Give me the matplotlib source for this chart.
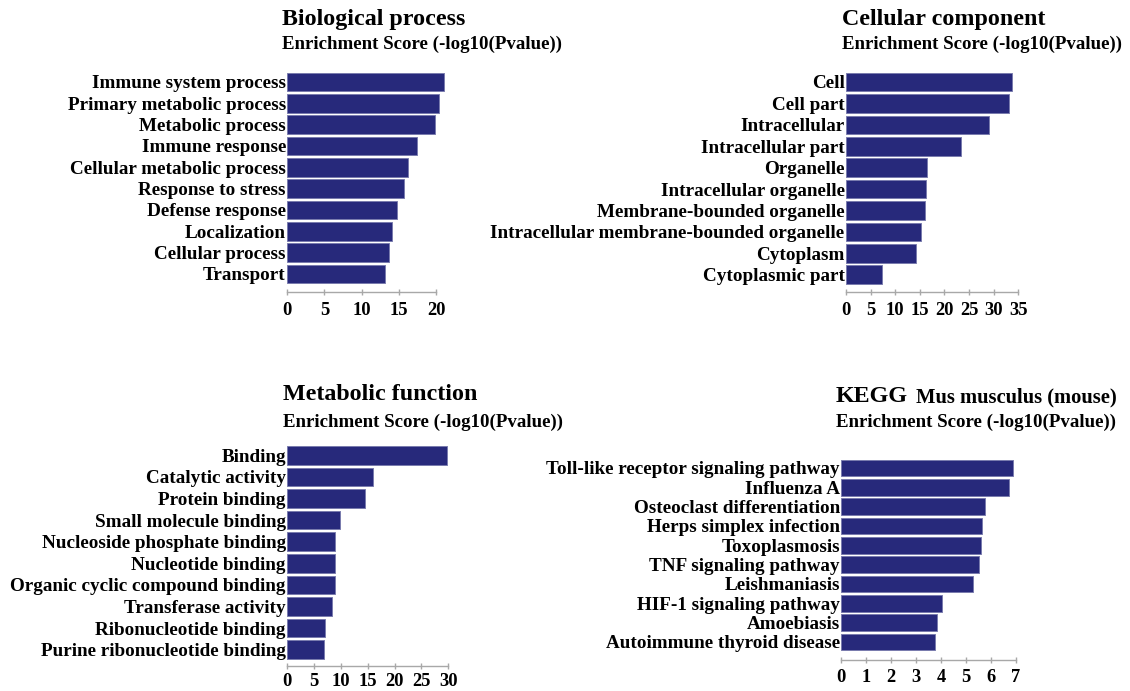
import matplotlib.pyplot as plt

plt.rcParams['font.family'] = ['Liberation Serif', 'DejaVu Serif']
plt.rcParams['font.weight'] = 'bold'

W, H = 1130, 691

# --- data -------------------------------------------------------------
bp_terms = ["Immune system process", "Primary metabolic process", "Metabolic process",
            "Immune response", "Cellular metabolic process", "Response to stress",
            "Defense response", "Localization", "Cellular process", "Transport"]
bp_scores = [21.1, 20.4, 19.8, 17.5, 16.3, 15.7, 14.7, 14.1, 13.7, 13.1]

cc_terms = ["Cell", "Cell part", "Intracellular", "Intracellular part", "Organelle",
            "Intracellular organelle", "Membrane-bounded organelle",
            "Intracellular membrane-bounded organelle", "Cytoplasm", "Cytoplasmic part"]
cc_scores = [33.7, 33.2, 29.1, 23.3, 16.4, 16.3, 16.1, 15.2, 14.2, 7.4]

mf_terms = ["Binding", "Catalytic activity", "Protein binding", "Small molecule binding",
            "Nucleoside phosphate binding", "Nucleotide binding",
            "Organic cyclic compound binding", "Transferase activity",
            "Ribonucleotide binding", "Purine ribonucleotide binding"]
mf_scores = [29.7, 15.9, 14.5, 9.9, 8.9, 8.9, 8.9, 8.4, 7.1, 6.9]

kegg_terms = ["Toll-like receptor signaling pathway", "Influenza A",
              "Osteoclast differentiation", "Herps simplex infection", "Toxoplasmosis",
              "TNF signaling pathway", "Leishmaniasis", "HIF-1 signaling pathway",
              "Amoebiasis", "Autoimmune thyroid disease"]
kegg_scores = [6.9, 6.75, 5.77, 5.66, 5.61, 5.54, 5.30, 4.04, 3.86, 3.78]

bp_ticks = [0, 5, 10, 15, 20]
cc_ticks = [0, 5, 10, 15, 20, 25, 30, 35]
mf_ticks = [0, 5, 10, 15, 20, 25, 30]
kegg_ticks = [0, 1, 2, 3, 4, 5, 6, 7]

BAR = "#27297b"
EDGE = "#7a7cae"
AXIS = "#a8a8a8"

fig = plt.figure(figsize=(W / 100, H / 100), dpi=100)


def panel(terms, scores, ticks, x0, x1, c_first, c_last, spine_y, bar_frac=0.87, pad=5):
    # pixel geometry -> axes box; x1 is where the last tick sits
    n = len(terms)
    slot = (c_last - c_first) / (n - 1)
    top = c_first - slot / 2
    ax = fig.add_axes([x0 / W, 1 - spine_y / H, (x1 - x0) / W, (spine_y - top) / H])
    ypos = list(range(n))
    ax.barh(ypos, scores, height=bar_frac, color=BAR, edgecolor=EDGE,
            linewidth=0.7, clip_on=False)
    ax.set_xlim(ticks[0], ticks[-1])
    ax.set_ylim((spine_y - c_first) / slot, -0.5)
    ax.set_yticks(ypos)
    ax.set_yticklabels(terms, fontsize=13.8, fontweight='bold')
    ax.tick_params(axis='y', length=0, pad=1)
    ax.set_xticks(ticks)
    ax.set_xticklabels([str(t) for t in ticks], fontsize=13.3, fontweight='bold')
    ax.tick_params(axis='x', direction='inout', length=5, width=1, color=AXIS, pad=pad)
    for s in ['top', 'right', 'left']:
        ax.spines[s].set_visible(False)
    ax.spines['bottom'].set_color(AXIS)
    ax.spines['bottom'].set_linewidth(1)
    ax.set_facecolor('none')
    return ax


def heading(x, y_title, y_sub, title, extra=None, extra_x=None):
    fig.text(x / W, 1 - y_title / H, title, fontsize=17.3, fontweight='bold', va='baseline')
    if extra:
        fig.text(extra_x / W, 1 - y_title / H, extra, fontsize=14.8, fontweight='bold',
                 va='baseline')
    fig.text(x / W, 1 - y_sub / H, "Enrichment Score (-log10(Pvalue))", fontsize=13.6,
             fontweight='bold', va='baseline')


panel(bp_terms, bp_scores, bp_ticks, 287.3, 436.0, 82.0, 274.0, 291.5)
panel(cc_terms, cc_scores, cc_ticks, 846.0, 1018.3, 82.0, 274.7, 291.5)
panel(mf_terms, mf_scores, mf_ticks, 287.3, 448.3, 455.3, 649.7, 665.5, pad=3)
panel(kegg_terms, kegg_scores, kegg_ticks, 841.3, 1015.7, 468.0, 642.0, 660.0,
      bar_frac=0.86, pad=4)

heading(282, 25, 49, "Biological process")
heading(842, 25, 49, "Cellular component")
heading(283, 400, 427, "Metabolic function")
heading(836, 402, 427, "KEGG", extra="Mus musculus (mouse)", extra_x=916)

fig.savefig("out.png", dpi=100)
